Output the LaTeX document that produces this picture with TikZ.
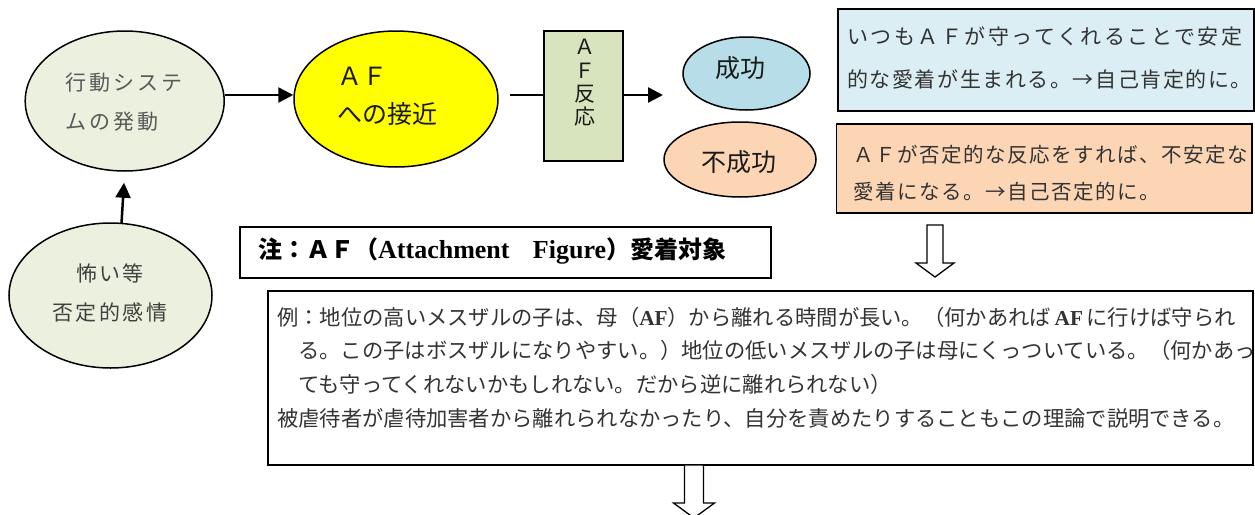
\documentclass[tikz,border=0pt]{standalone}
\usepackage{fontspec}
\setmainfont{Liberation Serif}
\newfontfamily\cjk{Noto Sans CJK JP}
\usetikzlibrary{arrows.meta,calc,shapes.geometric}
\definecolor{grn}{HTML}{EBF1DE}
\definecolor{yel}{HTML}{FFFF00}
\definecolor{olv}{HTML}{D7E4BD}
\definecolor{blu}{HTML}{B7DEE8}
\definecolor{org}{HTML}{FCD5B5}
\definecolor{lblu}{HTML}{DBEEF4}
\definecolor{lorg}{HTML}{FCD5B4}
\definecolor{ga}{HTML}{595959}
\definecolor{gb}{HTML}{404040}
\definecolor{gc}{HTML}{333333}
\definecolor{gd}{HTML}{1A1A1A}
\tikzset{
  ell/.style={ellipse, draw=black, line width=1.5pt, inner sep=0pt},
  boxnode/.style={rectangle, draw=black, line width=1.5pt, inner sep=0pt},
  txt/.style={inner sep=0pt, align=left},
  arr/.style={line width=2.5pt, -{Triangle[length=15pt,width=15pt]}},
  ln/.style={line width=2.5pt},
  hollow/.style={draw=black, line width=1.3pt, fill=white, line join=miter},
}
\newcommand\hollowdown[6]{% x, top, headstart, tip, shaft half, head half
  \path[hollow] (#1-#5,#2) -- (#1+#5,#2) -- (#1+#5,#3) -- (#1+#6,#3) -- (#1,#4) -- (#1-#6,#3) -- (#1-#5,#3) -- cycle;}
\begin{document}
\begin{tikzpicture}[x=1pt,y=-1pt]
\clip (0,0) rectangle (1255,514);
\fill[white] (0,0) rectangle (1255,514);
% shapes
\node[ell, fill=grn, minimum width=199, minimum height=140] (e1) at (124.7,101) {};
\node[ell, fill=yel, minimum width=204, minimum height=136] (e2) at (396,99) {};
\node[boxnode, fill=olv, minimum width=79, minimum height=130] (r) at (583.5,96) {};
\node[ell, fill=blu, minimum width=127, minimum height=73] (s) at (746.5,73.5) {};
\node[ell, fill=org, minimum width=152, minimum height=75] (f) at (740,159.5) {};
\node[boxnode, fill=lblu, minimum width=416, minimum height=102] (bb) at (1046,60) {};
\node[boxnode, fill=lorg, minimum width=415.5, minimum height=89] (ob) at (1044.25,168.5) {};
\node[ell, fill=grn, minimum width=203, minimum height=145] (e3) at (110.5,295.5) {};
\node[boxnode, fill=white, minimum width=531, minimum height=51] (note) at (505.5,252.5) {};
\node[boxnode, fill=white, minimum width=985, minimum height=174] (body) at (760.5,378) {};
% texts
\node[txt, anchor=west, text=ga, font={\cjk\addfontfeature{LetterSpace=14.3}\fontsize{21}{39}\selectfont}] (t1) at (65,102.5) {行動システ\\ムの発動};
\node[txt, text=gd, font={\cjk\fontsize{25}{38}\selectfont}] (t2) at (387,96) {ＡＦ\\への接近};
\node[txt, align=center, text=gd, font={\cjk\fontsize{21}{23.3}\selectfont}] (t3) at (585,83) {Ａ\\Ｆ\\反\\応};
\node[txt, text=gd, font={\cjk\fontsize{25}{30}\selectfont}] (t4) at (740,68) {成功};
\node[txt, text=gd, font={\cjk\fontsize{25}{30}\selectfont}] (t5) at (738.5,162) {不成功};
\node[txt, anchor=west, text=gc, font={\cjk\fontsize{21}{43}\selectfont}] (t6) at (847,58.5) {{\addfontfeature{LetterSpace=12}いつもＡＦが守ってくれることで安定}\\{\addfontfeature{LetterSpace=7.5}的な愛着が生まれる。→自己肯定的に。}};
\node[txt, anchor=west, text=gc, font={\cjk\addfontfeature{LetterSpace=7.3}\fontsize{20.5}{37}\selectfont}] (t7) at (853,173.5) {ＡＦが否定的な反応をすれば、不安定な\\愛着になる。→自己否定的に。};
\node[txt, align=center, text=gb, font={\cjk\addfontfeature{LetterSpace=11.9}\fontsize{21}{39}\selectfont}] (t8) at (110,293.5) {怖い等\\否定的感情};
\node[txt, anchor=west, text=black, font={\cjk\bfseries\fontsize{24}{30}\selectfont}] (t9) at (258,251) {注：ＡＦ（{\rmfamily\bfseries\fontsize{26}{30}\selectfont Attachment\hspace{0.9em}Figure}）愛着対象};
\node[txt, anchor=west, text=gc, font={\cjk\fontsize{21.3}{33.7}\selectfont}] (t10) at (277,367.5) {例：地位の高いメスザルの子は、母（{\rmfamily\bfseries AF}）から離れる時間が長い。（何かあれば{\rmfamily\bfseries\,AF\,}に行けば守られ\\
\hspace*{21pt}る。この子はボスザルになりやすい。）地位の低いメスザルの子は母にくっついている。（何かあっ\\
\hspace*{21pt}ても守ってくれないかもしれない。だから逆に離れられない）\\
被虐待者が虐待加害者から離れられなかったり、自分を責めたりすることもこの理論で説明できる。};
% connectors
\coordinate (c1) at (663,95);
\draw[arr] ($(e1.east)+(0,-6)$) -- ($(e2.west)+(0,-4)$);
\draw[ln] ($(e2.east)+(11,-4)$) -- ($(r.west)+(0,-1)$);
\draw[arr] ($(r.east)+(0,-1)$) -- (c1);
\draw[arr] ($(e3.north)+(11,1)$) -- ($(e1.south)+(-0.7,11)$);
% hollow arrows
\hollowdown{935}{225}{263}{277}{8}{19}
\hollowdown{694}{465}{503}{518}{9.5}{20.5}
\end{tikzpicture}
\end{document}
